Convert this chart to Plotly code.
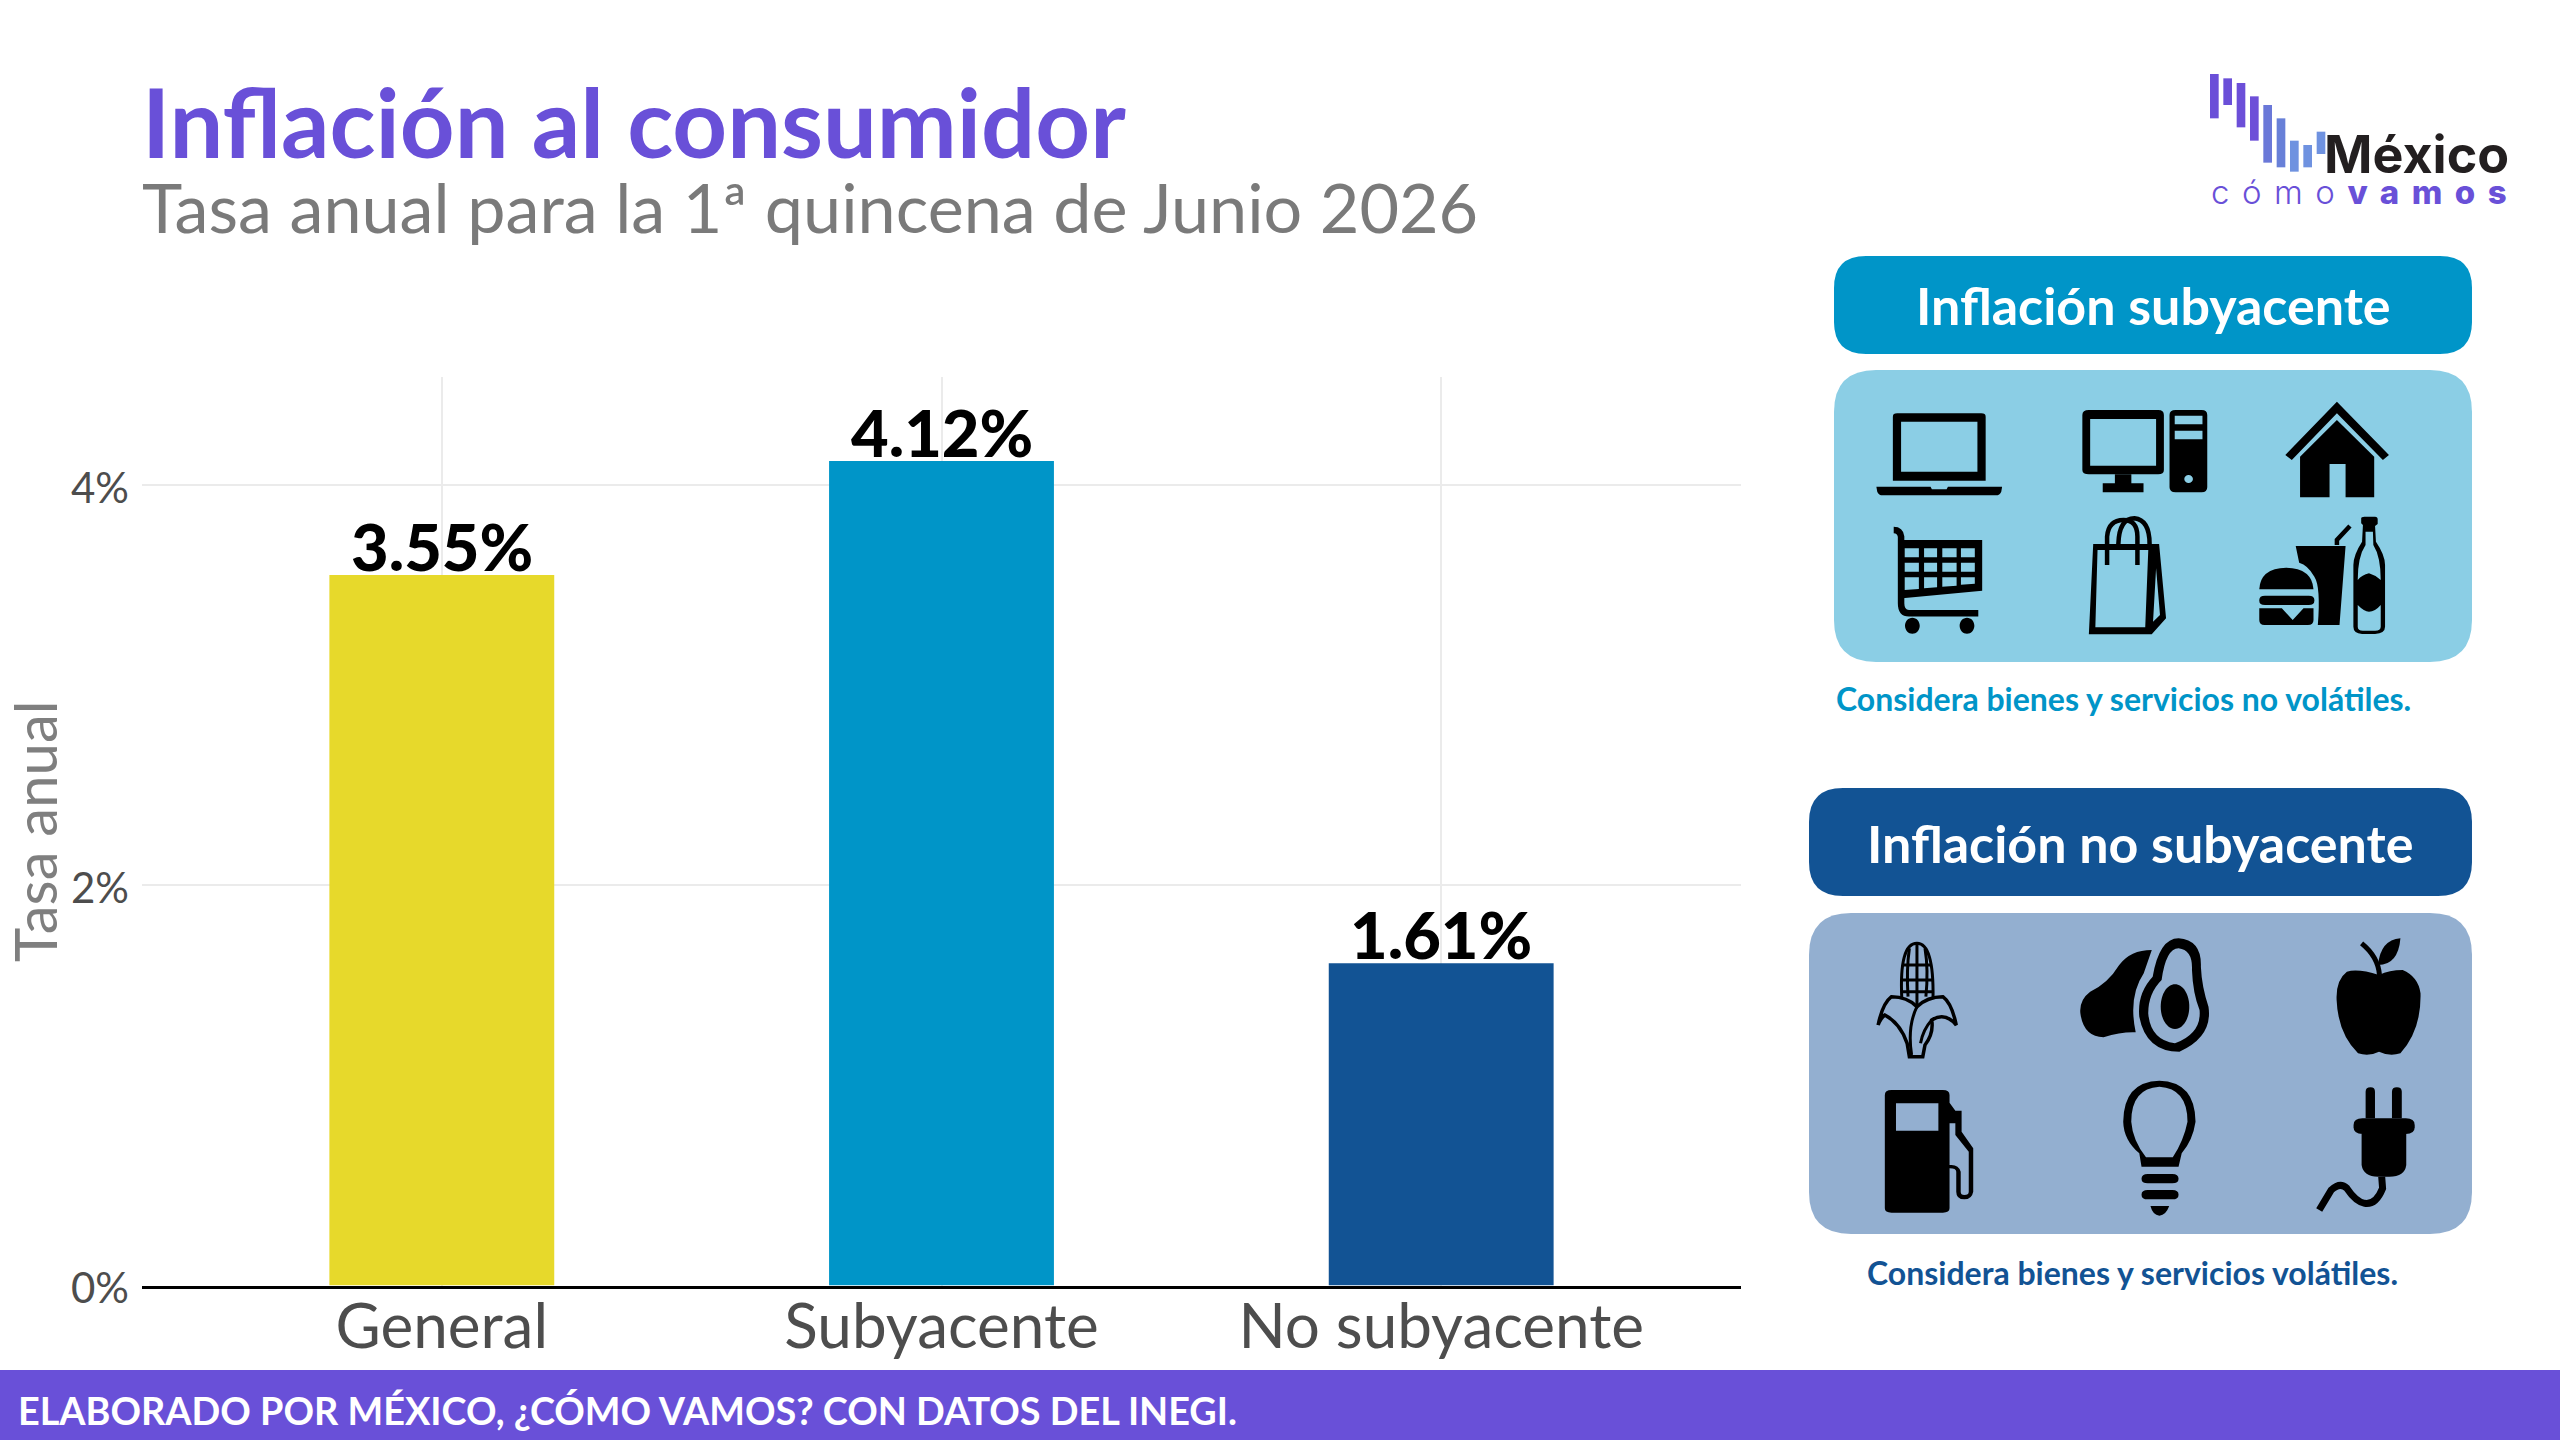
import re
import plotly.graph_objects as go

# Chart data
categories = ["General", "Subyacente", "No subyacente"]
rates = [3.55, 4.12, 1.61]
bar_colors = ["#E7D92B", "#0095C8", "#125394"]
y_ticks = [0, 2, 4]
y_tick_labels = ["0%", "2%", "4%"]

title = "Inflación al consumidor"
subtitle = "Tasa anual para la 1ª quincena de Junio 2026"
footer = "ELABORADO POR MÉXICO, ¿CÓMO VAMOS? CON DATOS DEL INEGI."

W, H = 2560, 1440
PURPLE = "#6950D8"
BLUE = "#0095C8"
NAVY = "#125394"
SANS = "Lato"


def place(path, ox=0.0, oy=0.0, sx=1.0, sy=1.0):
    """Convert a path in local units to paper coordinates."""
    out, is_x = [], True
    for tok in re.findall(r"[A-Za-z]|-?\d+\.?\d*", path):
        if tok.isalpha():
            out.append(tok)
            is_x = True
        elif is_x:
            out.append(f"{(ox + sx * float(tok)) / W:.5f}")
            is_x = False
        else:
            out.append(f"{1 - (oy + sy * float(tok)) / H:.5f}")
            is_x = True
    return " ".join(out)


def round_rect(x0, y0, x1, y1, rx, ry=None):
    ry = rx if ry is None else ry
    return (f"M{x0 + rx} {y0} L{x1 - rx} {y0} Q{x1} {y0} {x1} {y0 + ry} L{x1} {y1 - ry} "
            f"Q{x1} {y1} {x1 - rx} {y1} L{x0 + rx} {y1} Q{x0} {y1} {x0} {y1 - ry} "
            f"L{x0} {y0 + ry} Q{x0} {y0} {x0 + rx} {y0} Z ")


def ellipse(cx, cy, rx, ry):
    k = 0.5523
    return (f"M{cx - rx} {cy} C{cx - rx} {cy - k * ry} {cx - k * rx} {cy - ry} {cx} {cy - ry} "
            f"C{cx + k * rx} {cy - ry} {cx + rx} {cy - k * ry} {cx + rx} {cy} "
            f"C{cx + rx} {cy + k * ry} {cx + k * rx} {cy + ry} {cx} {cy + ry} "
            f"C{cx - k * rx} {cy + ry} {cx - rx} {cy + k * ry} {cx - rx} {cy} Z ")


shapes = []


def fill(path, color="#000000", **kw):
    shapes.append(dict(type="path", xref="paper", yref="paper", path=place(path, **kw),
                       fillcolor=color, line=dict(width=0), layer="above"))


def stroke(path, width, color="#000000", **kw):
    shapes.append(dict(type="path", xref="paper", yref="paper", path=place(path, **kw),
                       fillcolor="rgba(0,0,0,0)", line=dict(width=width, color=color), layer="above"))


# Footer band and side panels
fill(f"M0 1370 L{W} 1370 L{W} {H} L0 {H} Z", PURPLE)
fill(round_rect(1834, 256, 2472, 354, 32), BLUE)
fill(round_rect(1834, 370, 2472, 662, 42), "#8BCEE5")
fill(round_rect(1809, 788, 2472, 896, 34), NAVY)
fill(round_rect(1809, 913, 2472, 1234, 42), "#93AFD0")

# Icons of the first panel
p1 = dict(ox=1820, oy=240, sx=1 / 2.306, sy=1 / 3)
# laptop
fill("M168 530 Q168 520 178 520 L372 520 Q382 520 382 530 L382 722 L168 722 Z "
     "M187 545 L363 545 L363 695 L187 695 Z", **p1)
fill("M130 740 L255 740 L258 748 L292 748 L295 740 L420 740 L418 755 Q415 766 405 766 "
     "L145 766 Q135 766 132 755 Z", **p1)
# desktop computer
fill("M605 525 Q605 510 620 510 L780 510 Q793 510 793 525 L793 690 Q793 703 780 703 L620 703 "
     "Q605 703 605 690 Z M623 537 L775 537 L775 677 L623 677 Z", **p1)
fill("M680 703 L718 703 L718 730 L746 730 L746 757 L652 757 L652 730 L680 730 Z", **p1)
fill("M806 525 Q806 510 820 510 L880 510 Q893 510 893 525 L893 742 Q893 757 880 757 L820 757 "
     "Q806 757 806 742 Z M818 527 L882 527 L882 553 L818 553 Z M818 572 L882 572 L882 598 L818 598 Z "
     + ellipse(850, 717, 10, 12), **p1)
# house
fill("M1192 485 L1312 645 L1298 660 L1192 520 L1088 660 L1073 645 Z", **p1)
fill("M1192 540 L1278 650 L1278 772 L1212 772 L1212 672 L1175 672 L1175 772 L1107 772 L1107 650 Z", **p1)
# shopping cart
stroke("M170 870 Q185 870 187 890 L187 1090 Q187 1120 205 1120 L365 1120", 6.5, **p1)
cart = "M187 900 L374 900 L374 1052 L190 1075 Z "
for yt, yb in ((925, 952), (968, 995)):
    for xl, xr in ((195, 228), (240, 270), (282, 315), (325, 357)):
        cart += f"M{xl} {yt} L{xr} {yt} L{xr} {yb} L{xl} {yb} Z "
for xl, xr, yt, yb0, yb1 in ((195, 228, 1012, 1050, 1047), (240, 270, 1012, 1045, 1042),
                             (282, 315, 1012, 1040, 1037), (325, 357, 1012, 1034, 1031)):
    cart += f"M{xl} {yt} L{xr} {yt} L{xr} {yb1} L{xl} {yb0} Z "
fill(cart, **p1)
fill(ellipse(213, 1157, 17, 24) + ellipse(339, 1157, 17, 24), **p1)
# shopping bag
fill("M630 912 L782 912 L798 1135 L765 1183 L620 1183 Z M640 930 L757 930 L750 1162 L635 1162 Z "
     "M775 985 L784 1125 L768 1145 Z", **p1)
stroke("M662 975 L662 890 Q665 840 700 840 Q732 840 732 890 L732 975", 4.5, **p1)
stroke("M688 912 Q690 835 725 835 Q760 840 760 912", 4.5, **p1)
# burger, cup and bottle
fill("M1013 1048 Q1015 985 1075 983 Q1135 985 1138 1048 Z", **p1)
fill(round_rect(1013, 1067, 1140, 1095, 13), **p1)
fill("M1013 1105 L1065 1105 L1090 1140 L1115 1105 L1138 1105 L1138 1140 Q1138 1155 1125 1155 "
     "L1025 1155 Q1013 1155 1013 1140 Z", **p1)
fill("M1097 918 L1212 918 L1198 1155 L1148 1155 Q1155 1040 1140 1010 Q1125 975 1105 968 Z", **p1)
stroke("M1192 915 L1192 900 L1222 858", 4.5, **p1)
fill("M1248 835 Q1248 830 1255 830 L1280 830 Q1286 830 1286 838 L1286 852 L1280 858 L1282 905 "
     "Q1303 945 1303 975 L1303 1160 Q1303 1180 1280 1182 L1250 1182 Q1230 1180 1230 1160 L1230 975 "
     "Q1230 945 1250 905 L1252 855 L1248 850 Z "
     "M1258 875 L1275 875 L1276 915 Q1293 950 1293 1020 Q1280 1005 1266 1000 Q1250 1005 1240 1020 "
     "Q1240 950 1258 915 Z "
     "M1240 1095 Q1255 1115 1266 1115 Q1280 1115 1293 1095 L1293 1160 Q1293 1172 1280 1172 "
     "L1252 1172 Q1240 1172 1240 1160 Z", **p1)

# Icons of the second panel
p2 = dict(ox=1800, oy=780, sx=1 / 2.24, sy=1 / 3)
# corn cob
stroke("M228 655 Q222 490 262 490 Q300 490 298 655", 3, **p2)
stroke("M262 490 L262 680 M245 505 Q238 570 242 650 M280 505 Q288 570 282 650 "
       "M230 555 L295 555 M228 600 L297 600 M228 635 L297 635", 3, **p2)
stroke("M245 830 L240 790 Q225 730 190 705 Q180 715 175 735 Q185 670 205 650 Q240 650 262 680 "
       "Q285 650 320 650 Q340 670 350 735 Q325 695 295 720 Q300 760 280 795 L275 830 Z", 3.5, **p2)
stroke("M262 680 Q240 740 250 825 M295 720 Q275 750 270 790", 3, **p2)
# avocado
fill("M848 475 Q900 480 898 560 Q900 620 915 680 Q925 770 850 815 Q775 815 760 710 Q755 640 790 590 "
     "Q805 475 848 475 Z M848 505 Q880 510 878 570 Q880 640 895 690 Q900 760 840 790 Q785 780 780 700 "
     "Q780 640 810 600 Q820 505 848 505 Z", **p2)
fill(ellipse(840, 680, 32, 67), **p2)
fill("M788 510 Q740 510 715 555 Q690 610 650 635 Q625 660 628 700 Q635 770 680 772 Q720 755 752 757 "
     "Q735 650 770 580 Z", **p2)
# apple
fill("M1297 585 Q1250 565 1225 575 Q1200 600 1202 660 Q1205 760 1250 820 Q1275 830 1297 815 "
     "Q1320 830 1345 820 Q1392 750 1390 640 Q1385 590 1350 570 Q1320 570 1297 585 Z", **p2)
stroke("M1258 490 Q1295 530 1298 585", 5, **p2)
fill("M1345 475 Q1300 480 1295 555 Q1340 555 1345 475 Z", **p2)
# fuel pump
fill("M190 945 Q190 930 205 930 L320 930 Q335 930 335 945 L335 968 L348 992 L362 992 L362 1055 "
     "L388 1105 L388 1235 Q385 1258 368 1258 Q350 1258 350 1235 L350 1175 Q350 1165 335 1165 "
     "L335 1285 Q335 1298 320 1298 L205 1298 Q190 1298 190 1285 Z "
     "M215 970 L310 970 L310 1052 L215 1052 Z "
     "M335 1030 L348 1030 L348 1065 L378 1115 L378 1235 Q378 1245 368 1245 Q360 1245 360 1235 "
     "L360 1175 Q355 1152 335 1155 Z", **p2)
# light bulb
fill("M805 902 Q885 905 886 1025 Q880 1080 855 1120 L848 1160 L765 1160 L760 1120 Q725 1080 724 1025 "
     "Q725 905 805 902 Z M805 920 Q868 925 868 1025 Q860 1080 835 1132 L775 1132 Q745 1080 742 1025 "
     "Q742 925 805 920 Z", **p2)
fill(round_rect(765, 1182, 848, 1210, 14) + round_rect(765, 1230, 848, 1258, 14), **p2)
fill("M785 1278 L827 1278 Q820 1305 805 1307 Q790 1305 785 1278 Z", **p2)
# power plug
fill("M1267 1015 L1267 935 Q1267 922 1278 922 Q1288 922 1288 935 L1288 1015 Z", **p2)
fill("M1326 1015 L1326 935 Q1326 922 1337 922 Q1348 922 1348 935 L1348 1015 Z", **p2)
fill(round_rect(1240, 1015, 1377, 1062, 20), **p2)
fill("M1258 1062 L1358 1062 L1358 1155 Q1355 1190 1320 1190 L1295 1190 Q1262 1190 1258 1155 Z", **p2)
stroke("M1303 1190 L1305 1225 Q1290 1275 1265 1270 Q1245 1265 1225 1225 Q1210 1205 1190 1230 L1163 1290",
       7, **p2)

# Logo mark
logo = dict(ox=2150, oy=50, sx=1 / 3, sy=1 / 3)
logo_bars = [(180, 72, 205, "#6A4FD8"), (220, 85, 165, "#6A4FD8"), (260, 99, 232, "#6C4FD8"),
             (300, 139, 272, "#6E50D8"), (340, 165, 338, "#6A78D8"), (380, 205, 352, "#6880D8"),
             (420, 272, 365, "#6F92E0"), (460, 285, 352, "#6F92E0"), (500, 245, 312, "#6F92E0")]
for bx, by0, by1, bc in logo_bars:
    fill(f"M{bx} {by0} L{bx + 26} {by0} L{bx + 26} {by1} L{bx} {by1} Z", bc, **logo)


def label(text, x, y, size, color, weight=400, anchor="left", family=SANS, align=None):
    """Text placed by its anchor and vertical middle, in page pixels."""
    return dict(text=text, x=x / W, y=1 - y / H, xref="paper", yref="paper", showarrow=False,
                xanchor=anchor, yanchor="middle", align=align or anchor,
                font=dict(family=family, size=size, color=color, weight=weight))


wordmark = (
    '<span style="font-size:52px;font-weight:700;fill:#231F20">Méxic'
    '<span style="letter-spacing:10px">o</span></span><br>'
    '<span style="font-size:33px;letter-spacing:12.5px;font-weight:300">cómo</span>'
    '<span style="font-size:33px;letter-spacing:12.5px;font-weight:800">vamos</span>'
)

heading = (
    f'<span style="font-size:95.5px;font-weight:700">{title}</span><br>'
    f'<span style="font-size:68.3px;font-weight:400;fill:#7A7A7A">{subtitle}</span>'
)

notes = [
    label(heading, 140, 155.5, 57.7, PURPLE, 400),
    label(footer, 16, 1410, 37.8, "#FFFFFF", 700),
    label("Inflación subyacente", 2153, 305, 52, "#FFFFFF", 700, "center"),
    label("Inflación no subyacente", 2140, 843, 52, "#FFFFFF", 700, "center"),
    label("Considera bienes y servicios no volátiles.", 1834, 699, 32, BLUE, 700),
    label("Considera bienes y servicios volátiles.", 2132, 1272, 32, NAVY, 700, "center"),
    label(wordmark, 2521, 167, 23.5, PURPLE, 400, "right", "Inter"),
]

# Value labels sit right on top of their bars
for cat, val in zip(categories, rates):
    notes.append(dict(
        text=f"{val:.2f}%", x=cat, y=val, xref="x", yref="y", showarrow=False,
        xanchor="center", yanchor="bottom", yshift=-12,
        font=dict(family=SANS, size=65, color="#000000", weight=900),
    ))

fig = go.Figure(go.Bar(
    x=categories,
    y=rates,
    width=0.45,
    marker=dict(color=bar_colors, line=dict(width=0)),
    cliponaxis=False,
))

fig.update_layout(
    width=W,
    height=H,
    margin=dict(l=0, r=0, t=0, b=0),
    paper_bgcolor="#FFFFFF",
    plot_bgcolor="#FFFFFF",
    showlegend=False,
    font=dict(family=SANS),
    shapes=shapes,
    annotations=notes,
    xaxis=dict(
        domain=[142 / W, 1741 / W],
        range=[-0.6, 2.6],
        showgrid=True,
        gridcolor="#EBEBEB",
        gridwidth=2,
        showline=True,
        linecolor="#000000",
        linewidth=3,
        ticks="",
        ticklabelstandoff=-15,
        tickfont=dict(family=SANS, size=62, color="#4D4D4D", weight=400),
    ),
    yaxis=dict(
        domain=[1 - 1285.5 / H, 1 - 377 / H],
        range=[0, 4.54],
        tickvals=y_ticks,
        ticktext=y_tick_labels,
        showgrid=True,
        gridcolor="#EBEBEB",
        gridwidth=2,
        zeroline=False,
        showline=False,
        ticks="",
        ticklabelstandoff=12,
        ticklabelshift=3,
        tickfont=dict(family=SANS, size=42, color="#4D4D4D", weight=400),
        title=dict(text="Tasa anual", standoff=33,
                   font=dict(family=SANS, size=58, color="#7F7F7F", weight=400)),
        automargin=False,
    ),
)

fig.write_html("out.html")
